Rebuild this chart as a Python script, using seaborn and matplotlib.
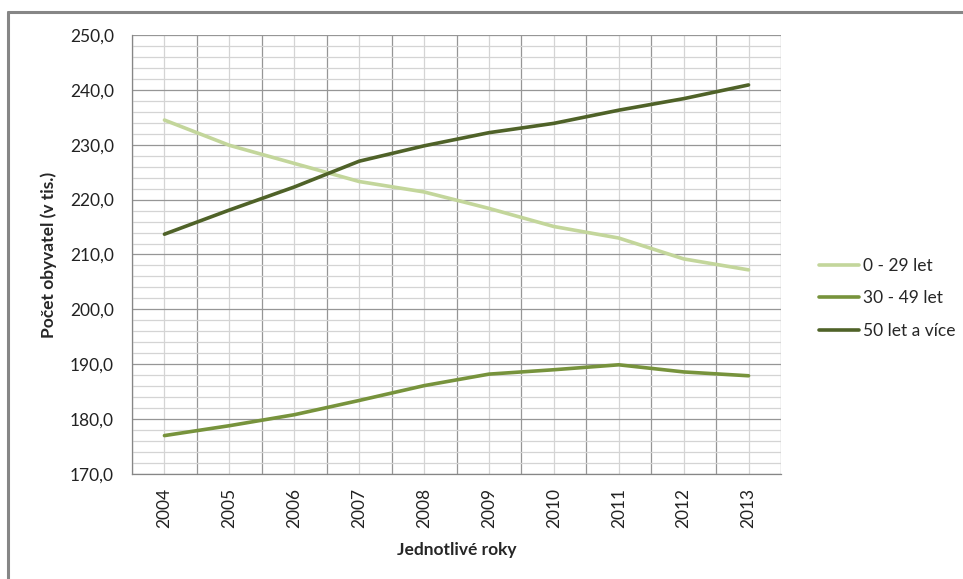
import pandas as pd
import matplotlib.pyplot as plt
import matplotlib.ticker as mticker
from matplotlib.lines import Line2D
import seaborn as sns

# values (thousands of inhabitants)
years = ['2004', '2005', '2006', '2007', '2008', '2009', '2010', '2011', '2012', '2013']
age_0_29 = [234.5, 229.9, 226.6, 223.3, 221.4, 218.4, 215.1, 213.0, 209.2, 207.2]
age_30_49 = [177.0, 178.8, 180.8, 183.4, 186.1, 188.2, 189.0, 189.9, 188.6, 187.9]
age_50_plus = [213.7, 218.1, 222.3, 227.0, 229.8, 232.2, 233.9, 236.3, 238.4, 240.9]
series_names = ['0 - 29 let', '30 - 49 let', '50 let a více']
colors = ['#c3d69b', '#77933c', '#4f6228']

sns.set_style('white')
plt.rcParams['font.family'] = ['Lato', 'DejaVu Sans']

positions = list(range(len(years)))
df = pd.DataFrame({
    'pos': positions * 3,
    'hodnota': age_0_29 + age_30_49 + age_50_plus,
    'skupina': [n for n in series_names for _ in years],
})

fig = plt.figure(figsize=(9.63, 5.79), dpi=100)
ax = fig.add_axes([132 / 963, 105 / 579, 649 / 963, 439 / 579])

sns.lineplot(data=df, x='pos', y='hodnota', hue='skupina', hue_order=series_names,
             palette=colors, linewidth=2.6, ax=ax, sort=False)

# axes and grid, Excel style
ax.set_xlim(-0.5, len(years) - 0.5)
ax.set_ylim(170, 250)
ax.set_axisbelow(True)

ax.xaxis.set_major_locator(mticker.FixedLocator([p - 0.5 for p in range(len(years) + 1)]))
ax.xaxis.set_major_formatter(mticker.NullFormatter())
ax.xaxis.set_minor_locator(mticker.FixedLocator(positions))
ax.xaxis.set_minor_formatter(mticker.FixedFormatter(years))
ax.yaxis.set_major_locator(mticker.MultipleLocator(10))
ax.yaxis.set_minor_locator(mticker.MultipleLocator(2))
ax.yaxis.set_major_formatter(mticker.FuncFormatter(lambda v, _: f'{v:.1f}'.replace('.', ',')))

ax.grid(which='major', color='#969696', linewidth=0.9)
ax.grid(which='minor', color='#d4d4d4', linewidth=0.9)

ax.tick_params(axis='x', which='major', length=5, color='#868686', width=0.9)
ax.tick_params(axis='x', which='minor', length=0, labelsize=12.5, rotation=90, pad=10,
               labelcolor='#222222')
ax.tick_params(axis='y', which='major', length=5, color='#868686', width=0.9,
               labelsize=12.5, pad=8, labelcolor='#222222')
ax.tick_params(axis='y', which='minor', length=0)

for side in ['top', 'right']:
    ax.spines[side].set_visible(False)
for side in ['left', 'bottom']:
    ax.spines[side].set_color('#868686')
    ax.spines[side].set_linewidth(0.9)

ax.set_xlabel('Jednotlivé roky', fontsize=12.5, fontweight='bold', labelpad=10)
ax.set_ylabel('Počet obyvatel (v tis.)', fontsize=12.5, fontweight='bold', labelpad=9)

leg = ax.legend(loc='center left', bbox_to_anchor=(1.035, 0.40), frameon=False,
                fontsize=12.5, handlelength=2.3, handletextpad=0.2, labelspacing=0.95)
for line in leg.get_lines():
    line.set_linewidth(2.6)

# outer chart border (only top and left visible in the crop)
fig.add_artist(Line2D([8 / 963, 8 / 963], [0, 1 - 12 / 579], color='#868686',
                      linewidth=2.2, transform=fig.transFigure))
fig.add_artist(Line2D([8 / 963, 1], [1 - 12 / 579, 1 - 12 / 579], color='#868686',
                      linewidth=2.2, transform=fig.transFigure))

fig.savefig('out.png', dpi=100)
